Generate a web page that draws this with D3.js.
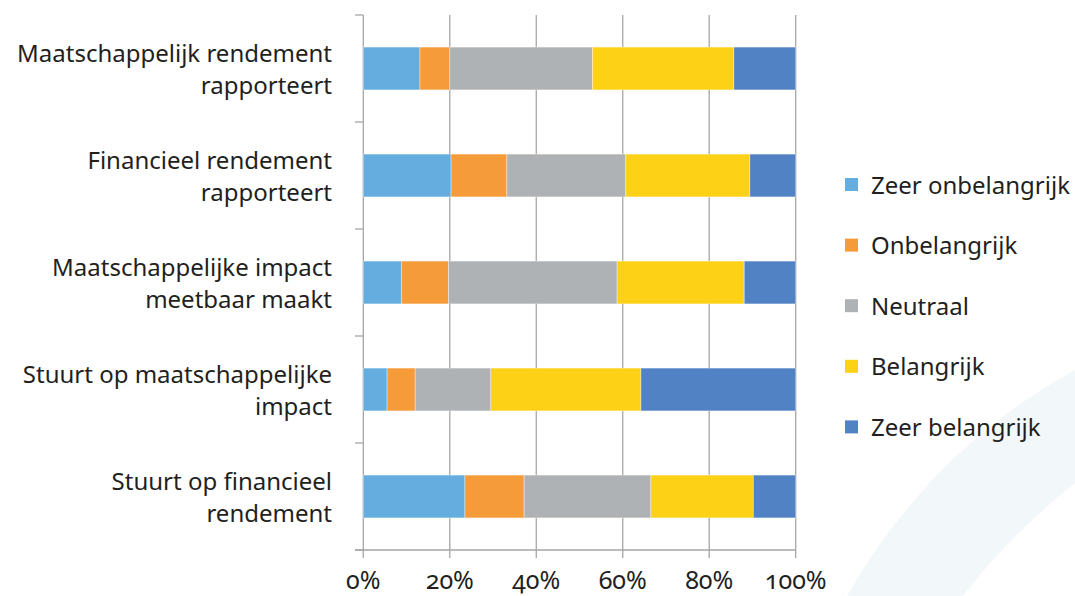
<!DOCTYPE html>
<html>
<head>
<meta charset="utf-8">
<script src="https://cdn.jsdelivr.net/npm/d3@7"></script>
<style>
  body { margin: 0; background: #fff; }
  svg text { font-family: "Noto Sans", "Open Sans", sans-serif; fill: #231f20; }
</style>
</head>
<body>
<svg id="chart" width="1075" height="596"></svg>
<script>
// categories top to bottom, each label split over two lines
const categories = [
  ["Maatschappelijk rendement", "rapporteert"],
  ["Financieel rendement", "rapporteert"],
  ["Maatschappelijke impact", "meetbaar maakt"],
  ["Stuurt op maatschappelijke", "impact"],
  ["Stuurt op financieel", "rendement"]
];

const seriesNames = ["Zeer onbelangrijk", "Onbelangrijk", "Neutraal", "Belangrijk", "Zeer belangrijk"];
const seriesColors = ["#65addf", "#f59b3a", "#afb2b4", "#fdd116", "#5082c4"];

// percentages per series, in category order
const zeerOnbelangrijk = [13.1, 20.3, 8.8, 5.5, 23.5];
const onbelangrijk     = [6.9, 12.9, 10.9, 6.5, 13.7];
const neutraal         = [33.0, 27.5, 39.0, 17.5, 29.3];
const belangrijk       = [32.7, 28.7, 29.4, 34.7, 23.7];
const zeerBelangrijk   = [14.3, 10.6, 11.9, 35.8, 9.8];

const xTicks = [0, 20, 40, 60, 80, 100];

const values = [zeerOnbelangrijk, onbelangrijk, neutraal, belangrijk, zeerBelangrijk];

const svg = d3.select("#chart");

// faint decorative band in the lower right corner
const bg = d3.path();
bg.moveTo(847, 596);
bg.quadraticCurveTo(930, 450, 1075, 370);
bg.lineTo(1075, 483);
bg.quadraticCurveTo(1010, 535, 963, 596);
bg.closePath();
svg.append("path").attr("d", bg.toString()).attr("fill", "#f2f7fa");

const x = d3.scaleLinear().domain([0, 100]).range([363.3, 795.7]);
const y = d3.scaleBand()
  .domain(d3.range(categories.length))
  .range([15, 550])
  .paddingInner(0.6)
  .paddingOuter(0.3);

const gridColor = "#a6a6a6";

// vertical gridlines + tick marks below the axis
svg.append("g").selectAll("line")
  .data(xTicks)
  .join("line")
  .attr("x1", d => x(d)).attr("x2", d => x(d))
  .attr("y1", 15).attr("y2", 558)
  .attr("stroke", gridColor).attr("stroke-width", 1.3);

// category axis line and tick marks at band boundaries
const bounds = d3.range(categories.length + 1).map(i => y.range()[0] + i * y.step());
svg.append("line")
  .attr("x1", 355).attr("x2", x(100))
  .attr("y1", 550).attr("y2", 550)
  .attr("stroke", gridColor).attr("stroke-width", 1.3);
svg.append("g").selectAll("line")
  .data(bounds)
  .join("line")
  .attr("x1", 355).attr("x2", x(0))
  .attr("y1", d => d).attr("y2", d => d)
  .attr("stroke", gridColor).attr("stroke-width", 1.3);

// stacked bars
const rows = categories.map((c, i) => {
  const row = { i: i };
  seriesNames.forEach((s, k) => { row[s] = values[k][i]; });
  return row;
});
const stacked = d3.stack().keys(seriesNames)(rows);

svg.append("g").selectAll("g")
  .data(stacked)
  .join("g")
  .attr("fill", (d, k) => seriesColors[k])
  .selectAll("rect")
  .data(d => d)
  .join("rect")
  .attr("x", d => x(d[0]))
  .attr("width", d => x(d[1]) - x(d[0]))
  .attr("y", d => y(d.data.i))
  .attr("height", y.bandwidth())
  .attr("stroke", "rgba(255,255,255,0.45)")
  .attr("stroke-width", 0.8);

// category labels
const labels = svg.append("g").selectAll("text")
  .data(categories)
  .join("text")
  .attr("text-anchor", "end")
  .attr("font-size", 24);
labels.append("tspan")
  .attr("x", 332)
  .attr("y", (d, i) => y(i) + y.bandwidth() / 2 - 7)
  .text(d => d[0]);
labels.append("tspan")
  .attr("x", 332)
  .attr("y", (d, i) => y(i) + y.bandwidth() / 2 + 25)
  .text(d => d[1]);

// x tick labels
svg.append("g").selectAll("text")
  .data(xTicks)
  .join("text")
  .attr("x", d => x(d))
  .attr("y", 589)
  .attr("text-anchor", "middle")
  .attr("font-size", 25)
  .style("font-variant-numeric", "oldstyle-nums")
  .text(d => d + "%");

// legend
const legend = svg.append("g").selectAll("g")
  .data(seriesNames)
  .join("g")
  .attr("transform", (d, k) => `translate(845,${184.5 + k * 60.6})`);
legend.append("rect")
  .attr("x", 0).attr("y", -6.5)
  .attr("width", 13).attr("height", 13)
  .attr("fill", (d, k) => seriesColors[k]);
legend.append("text")
  .attr("x", 26).attr("y", 9)
  .attr("font-size", 24)
  .text(d => d);
</script>
</body>
</html>
